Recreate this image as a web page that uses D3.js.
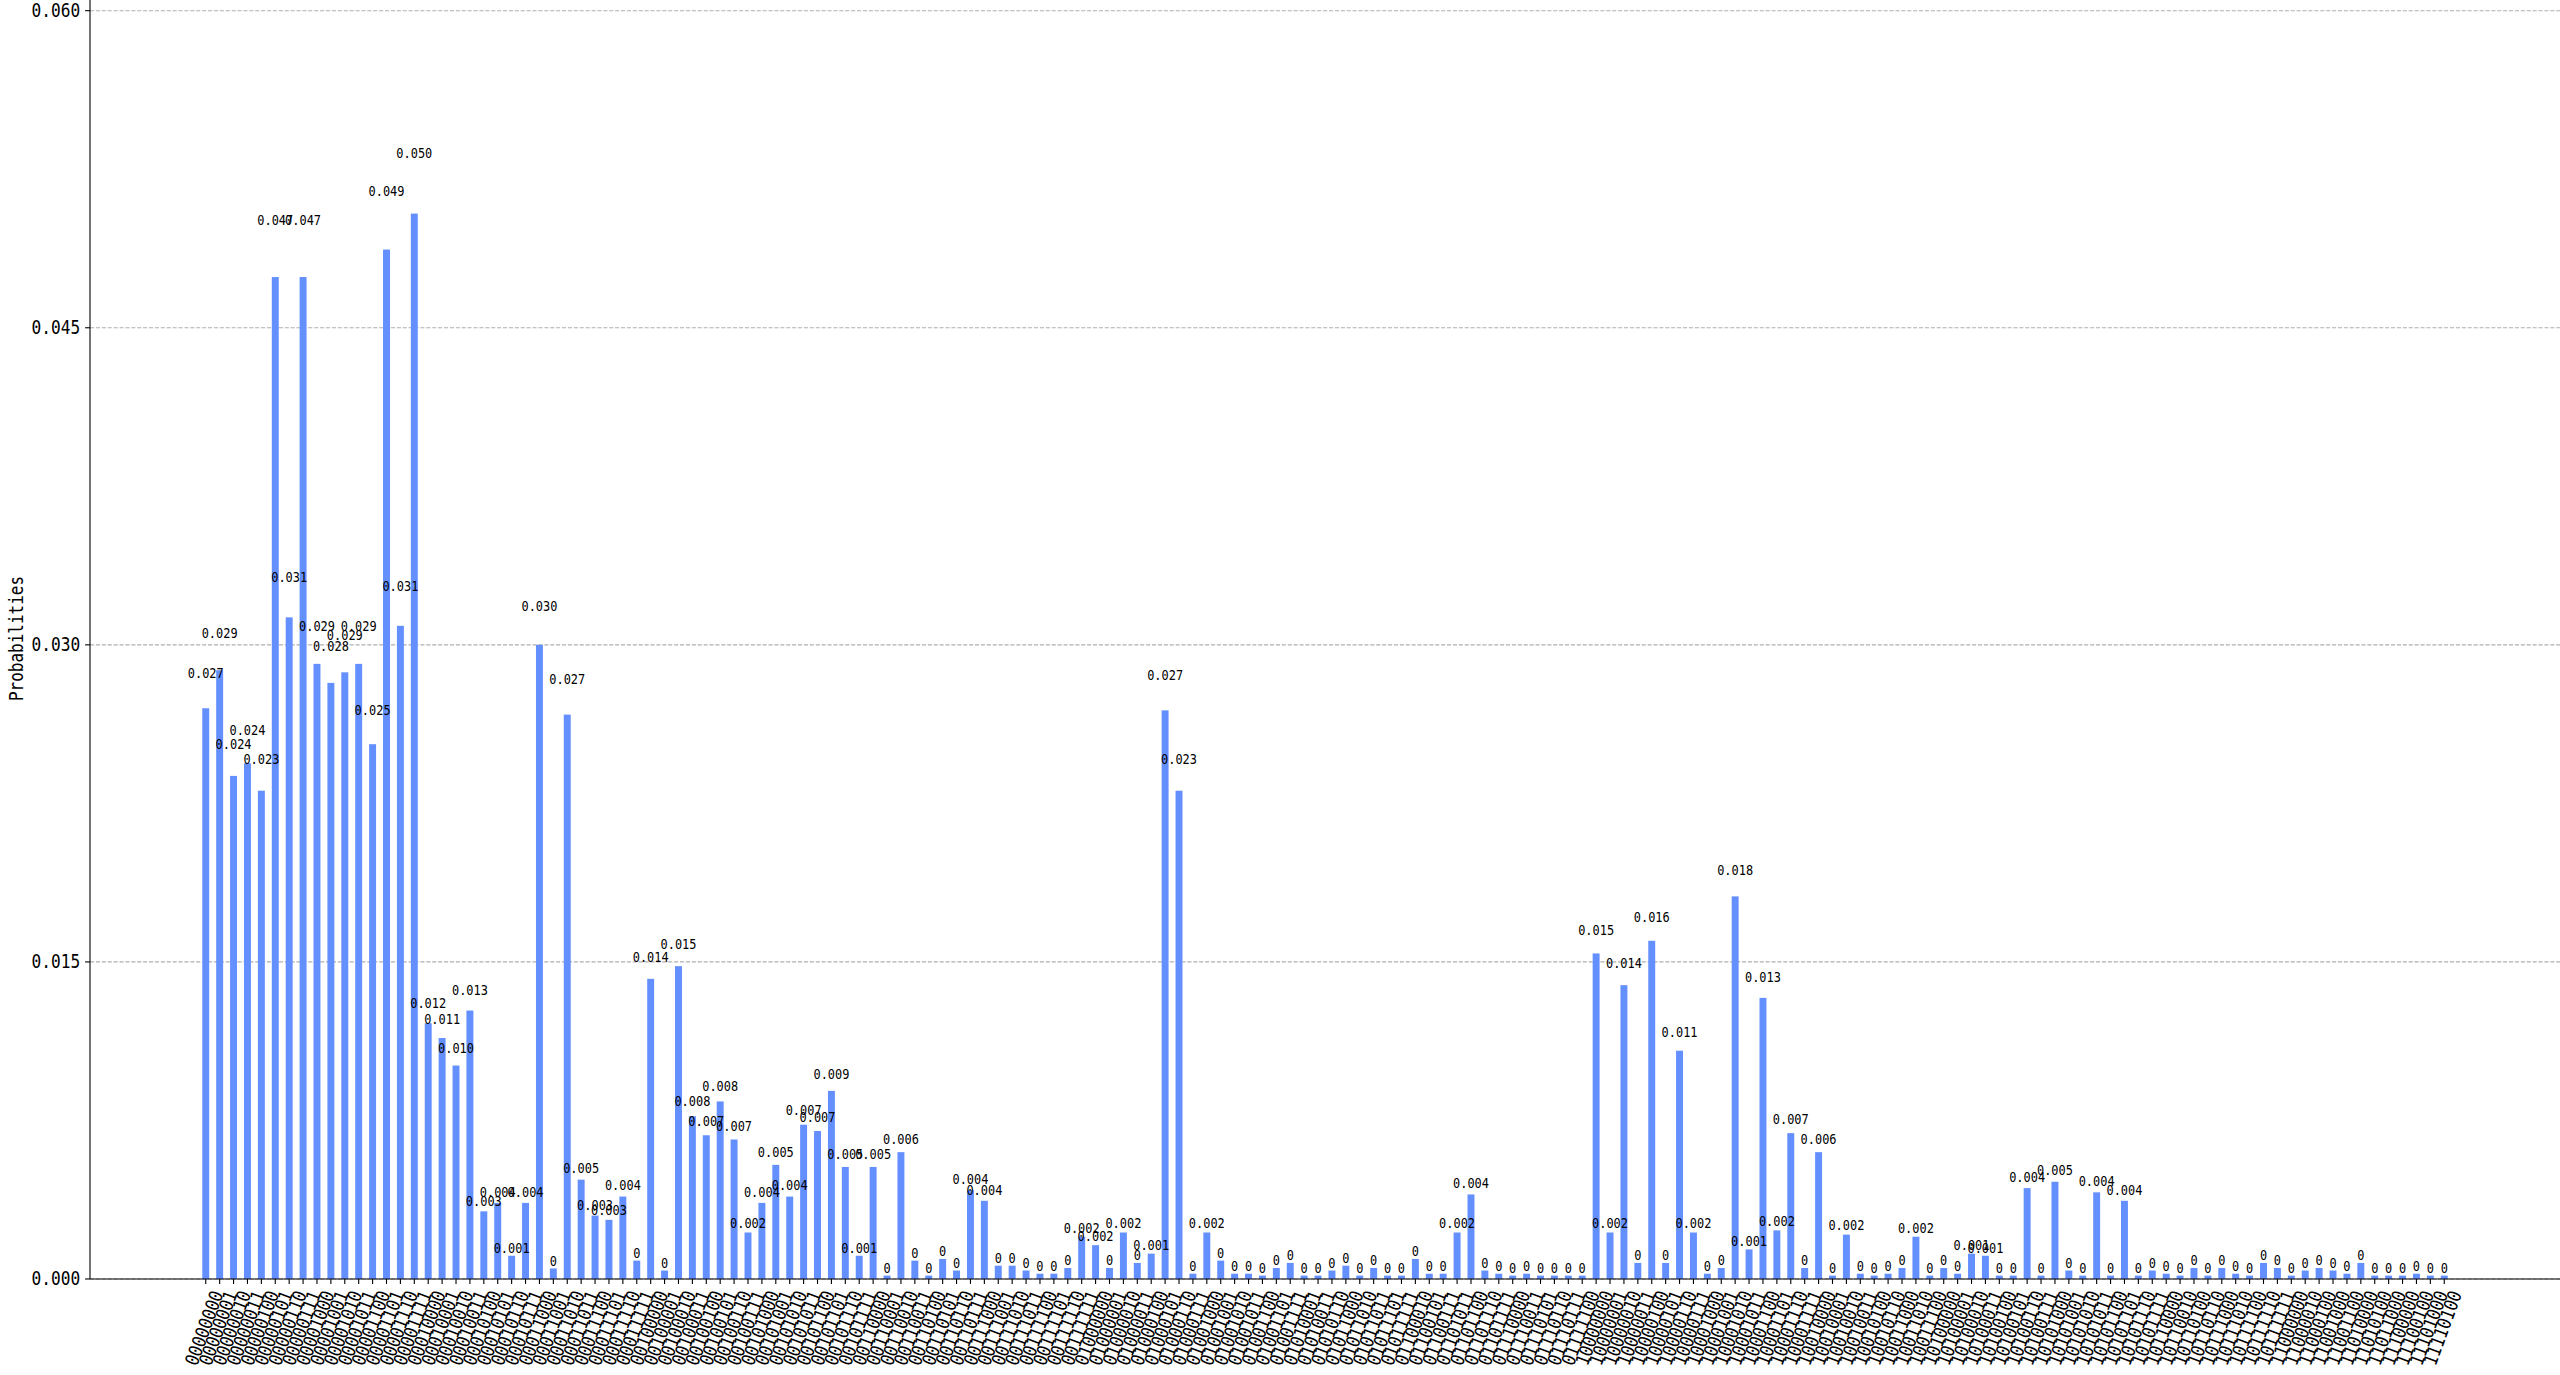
<!DOCTYPE html>
<html>
<head>
<meta charset="utf-8">
<script src="https://d3js.org/d3.v7.min.js"></script>
<style>
  html, body { margin: 0; padding: 0; background: #fff; }
</style>
</head>
<body>
<script>
// measured outcomes (8-bit states)
let states = [
  0,1,2,3,4,5,6,7,8,9,10,11,12,13,14,15,16,17,18,19,20,21,22,23,24,25,26,27,28,29,30,31,
  32,33,34,35,36,37,38,39,40,41,42,43,44,45,46,47,48,49,50,51,52,53,54,55,56,57,58,59,60,61,62,63,
  64,65,66,67,68,69,70,71,72,73,74,75,76,77,
  79,81,83,86,88,90,91,93,95,98,101,103,107,108,110,111,112,115,117,118,119,124,
  128,129,130,131,132,133,134,135,136,137,138,139,140,141,142,143,144,145,146,147,148,150,152,154,156,
  160,161,162,163,164,165,166,167,168,169,170,171,172,173,174,175,176,178,180,182,184,186,188,190,191,
  192,194,196,200,204,208,212,216,
  224,228,232,244
];

// probability of each outcome
let probs = [
  0.0270,0.0288,0.0238,0.0244,0.0231,0.0474,0.0313,0.0474,0.0291,0.0282,0.0287,0.0291,0.0253,0.0487,0.0309,0.0504,
  0.0121,0.0114,0.0101,0.0127,0.0032,0.0036,0.0011,0.0036,0.0300,0.0005,0.0267,0.0047,0.0030,0.0028,0.0039,0.00087,
  0.0142,0.0004,0.0148,0.0077,0.0068,0.0084,0.0066,0.0022,0.0036,0.0054,0.0039,0.0073,0.0070,0.0089,0.0053,0.0011,
  0.0053,0.00016,0.0060,0.00087,0.00016,0.00095,0.0004,0.0042,0.0037,0.00063,0.00063,0.0004,0.00025,0.00025,0.00052,0.0020,
  0.0016,0.00052,0.0022,0.00076,0.0012,0.0269,0.0231,0.00025,0.0022,0.00087,0.00025,0.00025,0.00016,0.00052,0.00076,0.00016,
  0.00016,0.0004,0.00063,0.00016,0.00052,0.00016,0.00016,0.00095,0.00025,0.00025,0.0022,0.0040,0.0004,0.00025,0.00016,0.00025,
  0.00016,0.00016,0.00016,0.00016,0.0154,0.0022,0.0139,0.00076,0.0160,0.00076,0.0108,0.0022,0.00025,0.00052,0.0181,0.0014,
  0.0133,0.0023,0.0069,0.00052,0.0060,0.00016,0.0021,0.00025,0.00016,0.00025,0.00052,0.0020,0.00016,0.00052,0.00025,0.0012,
  0.0011,0.00016,0.00016,0.0043,0.00016,0.0046,0.0004,0.00016,0.0041,0.00016,0.0037,0.00016,0.0004,0.00025,0.00016,0.00052,
  0.00016,0.00052,0.00025,0.00016,0.00076,0.00052,0.00016,0.0004,0.00052,0.0004,0.00025,0.00076,0.00016,0.00016,0.00016,0.00025,
  0.00016,0.00016
];

let yTicks = [0, 0.015, 0.030, 0.045, 0.060];
let yMax = 0.0606;   // top of the value axis

const W = 2560, H = 1375;
const axLeft = 90, axRight = 2560, axBottom = 1279, axTop = -2;
const barColor = "#648fff";
const mono = "DejaVu Sans Mono";
const sx = 0.86;              // squeeze mono glyphs to a half-width look
const tickFont = 18.8, valFont = 13.9;

let labels = states.map(s => s.toString(2).padStart(8, "0"));
let n = labels.length;
let w = 0.5;
let m = 0.05 * (n - 1 + w);

let svg = d3.select("body").append("svg")
  .attr("width", W).attr("height", H)
  .style("display", "block");

let x = d3.scaleLinear()
  .domain([-w / 2 - m, n - 1 + w / 2 + m])
  .range([axLeft, axRight]);

let y = d3.scaleLinear()
  .domain([0, yMax])
  .range([axBottom, axTop]);

// dashed horizontal grid
svg.append("g").selectAll("line")
  .data(yTicks)
  .join("line")
  .attr("x1", axLeft).attr("x2", axRight)
  .attr("y1", d => y(d)).attr("y2", d => y(d))
  .attr("stroke", "#b0b0b0")
  .attr("stroke-width", 1.1)
  .attr("stroke-dasharray", "4.1,1.8");

// bars
let bw = x(w) - x(0);
svg.append("g").selectAll("rect")
  .data(probs)
  .join("rect")
  .attr("x", (d, i) => x(i) - bw / 2)
  .attr("width", bw)
  .attr("y", d => y(d))
  .attr("height", d => axBottom - y(d))
  .attr("fill", barColor);

// value labels above bars (placed at 1.05 * height)
function fmt(v) {
  return v < 0.001 ? "0" : v.toFixed(3);
}
svg.append("g").selectAll("text")
  .data(probs)
  .join("text")
  .attr("transform", (d, i) => `translate(${x(i)},${y(1.05 * d) - 2}) scale(${sx},1)`)
  .attr("text-anchor", "middle")
  .attr("font-family", mono)
  .attr("font-size", valFont)
  .attr("fill", "#000")
  .text(d => fmt(d));

// spines
svg.append("line")
  .attr("x1", axLeft).attr("x2", axLeft).attr("y1", axTop).attr("y2", axBottom)
  .attr("stroke", "#000").attr("stroke-width", 1.1);
svg.append("line")
  .attr("x1", axLeft).attr("x2", axRight).attr("y1", axBottom).attr("y2", axBottom)
  .attr("stroke", "#000").attr("stroke-width", 1.1);

// y ticks and labels
let yAx = svg.append("g");
yTicks.forEach(t => {
  yAx.append("line")
    .attr("x1", axLeft - 4.9).attr("x2", axLeft)
    .attr("y1", y(t)).attr("y2", y(t))
    .attr("stroke", "#000").attr("stroke-width", 1.1);
  yAx.append("text")
    .attr("transform", `translate(${axLeft - 9.8},${y(t)}) scale(${sx},1)`)
    .attr("text-anchor", "end")
    .attr("dominant-baseline", "central")
    .attr("font-family", mono)
    .attr("font-size", tickFont)
    .text(t.toFixed(3));
});

// x ticks and rotated labels (70 degrees, box centred on tick)
const ang = 70 * Math.PI / 180;
const adv = 0.602 * tickFont * sx;
const asc = 0.76 * tickFont, desc = 0.24 * tickFont;
let xAx = svg.append("g");
labels.forEach((lab, i) => {
  let cx = x(i);
  xAx.append("line")
    .attr("x1", cx).attr("x2", cx)
    .attr("y1", axBottom).attr("y2", axBottom + 4.9)
    .attr("stroke", "#000").attr("stroke-width", 1.1);
  let L = lab.length * adv;
  let minX = -asc * Math.sin(ang), maxX = L * Math.cos(ang) + desc * Math.sin(ang);
  let minY = -L * Math.sin(ang) - asc * Math.cos(ang);
  let x0 = cx - (minX + maxX) / 2;
  let y0 = axBottom + 9.8 - minY;
  xAx.append("text")
    .attr("transform", `translate(${x0},${y0}) rotate(-70) scale(${sx},1)`)
    .attr("font-family", mono)
    .attr("font-size", tickFont)
    .text(lab);
});

// y axis title
svg.append("text")
  .attr("transform", `translate(17,${(axTop + axBottom) / 2}) rotate(-90) scale(0.85,1)`)
  .attr("text-anchor", "middle")
  .attr("dominant-baseline", "central")
  .attr("font-family", mono)
  .attr("font-size", tickFont)
  .text("Probabilities");
</script>
</body>
</html>
